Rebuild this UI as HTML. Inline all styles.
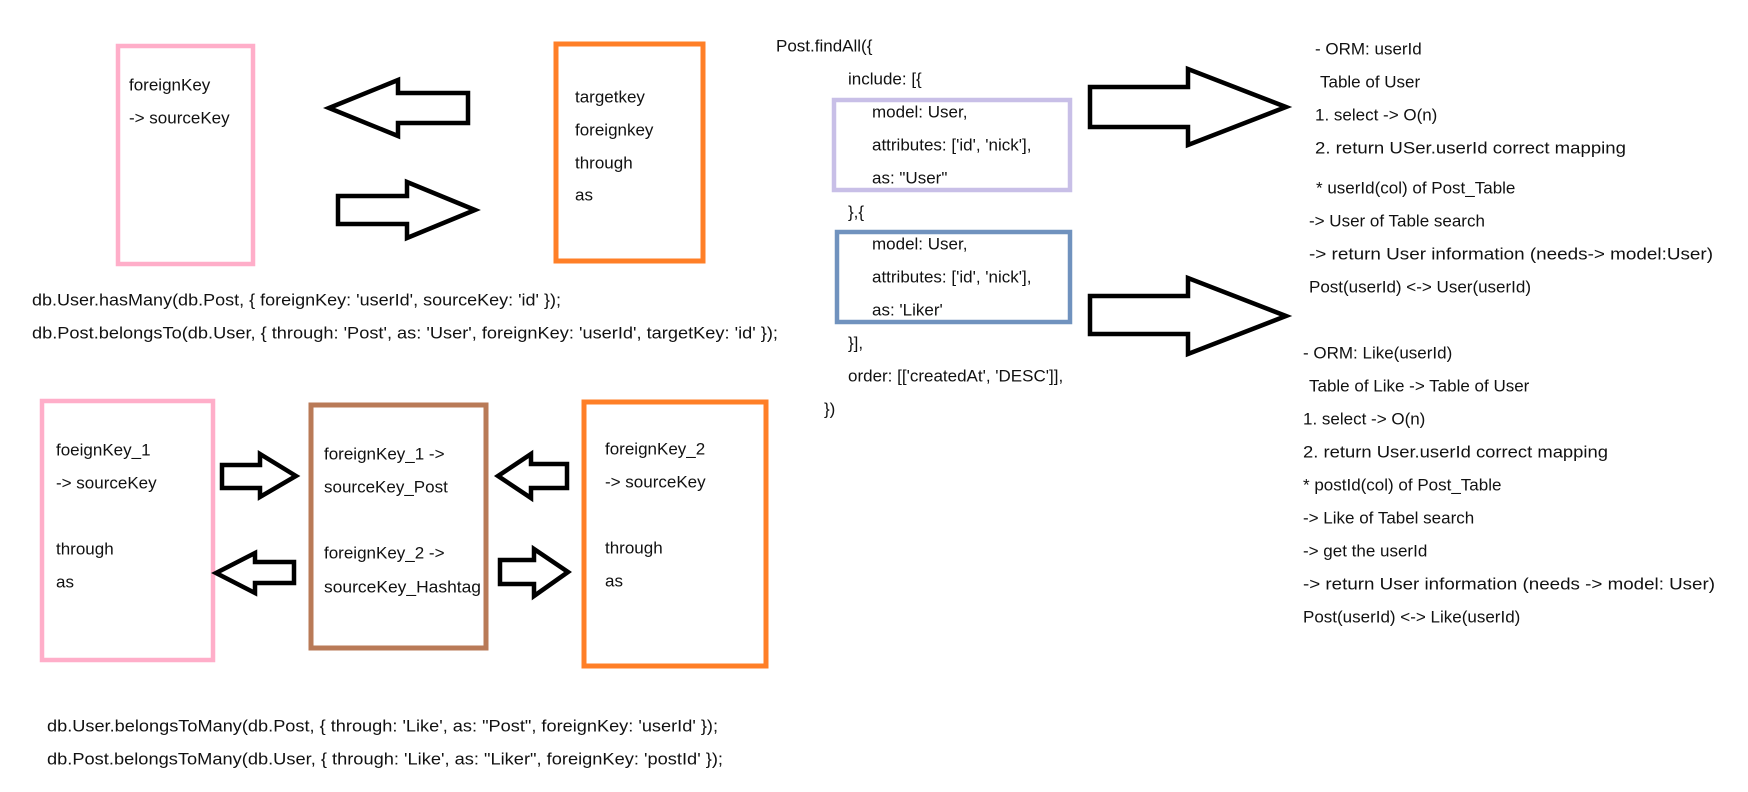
<!DOCTYPE html>
<html><head><meta charset="utf-8"><style>
html,body{margin:0;padding:0;background:#fff;}
svg{display:block;}
text{font-family:"Liberation Sans","Noto Sans CJK KR",sans-serif;font-size:17px;fill:#111;dominant-baseline:central;}
</style></head><body>
<svg width="1748" height="792" viewBox="0 0 1748 792" xmlns="http://www.w3.org/2000/svg">
<g fill="none" stroke-width="4.5">
<rect x="118" y="46" width="135" height="218" stroke="#ffaec9"/>
<rect x="556" y="44" width="147" height="217" stroke="#ff7f27" stroke-width="5"/>
<rect x="42" y="401" width="171" height="259" stroke="#ffaec9"/>
<rect x="311" y="405" width="175" height="243" stroke="#b97a57" stroke-width="5"/>
<rect x="584" y="402" width="182" height="264" stroke="#ff7f27" stroke-width="5"/>
<rect x="834" y="100" width="236" height="90" stroke="#c8bfe7"/>
<rect x="837" y="232" width="233" height="90" stroke="#7092be"/>
</g>
<g fill="#fff" stroke="#000" stroke-width="4.5" stroke-linejoin="miter">
<polygon points="329,108 398,80 398,93 468,93 468,123 398,123 398,136"/>
<polygon points="475,210 407,182 407,196 338,196 338,224 407,224 407,238"/>
<polygon points="296,476 260,454 260,465 222,465 222,488 260,488 260,497"/>
<polygon points="216,573 255,553 255,562 294,562 294,583 255,583 255,593"/>
<polygon points="498,476 531,454 531,464 567,464 567,488 531,488 531,498"/>
<polygon points="568,572 534,549 534,560 500,560 500,584 534,584 534,596"/>
<polygon points="1286,107 1188,69 1188,87 1090,87 1090,127 1188,127 1188,145"/>
<polygon points="1286,316 1188,278 1188,296 1090,296 1090,334 1188,334 1188,354"/>
</g>
<text x="129" y="85">foreignKey</text>
<text x="129" y="118">-&gt; sourceKey</text>
<text x="575" y="97">targetkey</text>
<text x="575" y="130">foreignkey</text>
<text x="575" y="163">through</text>
<text x="575" y="195">as</text>
<text x="32" y="300" textLength="529" lengthAdjust="spacingAndGlyphs">db.User.hasMany(db.Post, { foreignKey: 'userId', sourceKey: 'id' });</text>
<text x="32" y="333" textLength="746" lengthAdjust="spacingAndGlyphs">db.Post.belongsTo(db.User, { through: 'Post', as: 'User', foreignKey: 'userId', targetKey: 'id' });</text>
<text x="56" y="450">foeignKey_1</text>
<text x="56" y="483">-&gt; sourceKey</text>
<text x="56" y="549">through</text>
<text x="56" y="582">as</text>
<text x="324" y="454">foreignKey_1 -&gt;</text>
<text x="324" y="487">sourceKey_Post</text>
<text x="324" y="553">foreignKey_2 -&gt;</text>
<text x="324" y="587" textLength="157" lengthAdjust="spacingAndGlyphs">sourceKey_Hashtag</text>
<text x="605" y="449">foreignKey_2</text>
<text x="605" y="482">-&gt; sourceKey</text>
<text x="605" y="548">through</text>
<text x="605" y="581">as</text>
<text x="47" y="726" textLength="671" lengthAdjust="spacingAndGlyphs">db.User.belongsToMany(db.Post, { through: 'Like', as: "Post", foreignKey: 'userId' });</text>
<text x="47" y="759" textLength="676" lengthAdjust="spacingAndGlyphs">db.Post.belongsToMany(db.User, { through: 'Like', as: "Liker", foreignKey: 'postId' });</text>
<text x="776" y="46">Post.findAll({</text>
<text x="848" y="79">include: [{</text>
<text x="872" y="112">model: User,</text>
<text x="872" y="145">attributes: ['id', 'nick'],</text>
<text x="872" y="178">as: "User"</text>
<text x="848" y="212">},{</text>
<text x="872" y="244">model: User,</text>
<text x="872" y="277">attributes: ['id', 'nick'],</text>
<text x="872" y="310">as: 'Liker'</text>
<text x="848" y="343">}],</text>
<text x="848" y="376">order: [['createdAt', 'DESC']],</text>
<text x="824" y="409">})</text>
<text x="1315" y="49">- ORM: userId</text>
<text x="1320" y="82">Table of User</text>
<text x="1315" y="115">1. select -&gt; O(n)</text>
<text x="1315" y="148" textLength="311" lengthAdjust="spacingAndGlyphs">2. return USer.userId correct mapping</text>
<text x="1316" y="188">* userId(col) of Post_Table</text>
<text x="1309" y="221">-&gt; User of Table search</text>
<text x="1309" y="254" textLength="404" lengthAdjust="spacingAndGlyphs">-&gt; return User information (needs-&gt; model:User)</text>
<text x="1309" y="287">Post(userId) &lt;-&gt; User(userId)</text>
<text x="1303" y="353">- ORM: Like(userId)</text>
<text x="1309" y="386">Table of Like -&gt; Table of User</text>
<text x="1303" y="419">1. select -&gt; O(n)</text>
<text x="1303" y="452" textLength="305" lengthAdjust="spacingAndGlyphs">2. return User.userId correct mapping</text>
<text x="1303" y="485">* postId(col) of Post_Table</text>
<text x="1303" y="518">-&gt; Like of Tabel search</text>
<text x="1303" y="551">-&gt; get the userId</text>
<text x="1303" y="584" textLength="412" lengthAdjust="spacingAndGlyphs">-&gt; return User information (needs -&gt; model: User)</text>
<text x="1303" y="617">Post(userId) &lt;-&gt; Like(userId)</text>
</svg>
</body></html>
